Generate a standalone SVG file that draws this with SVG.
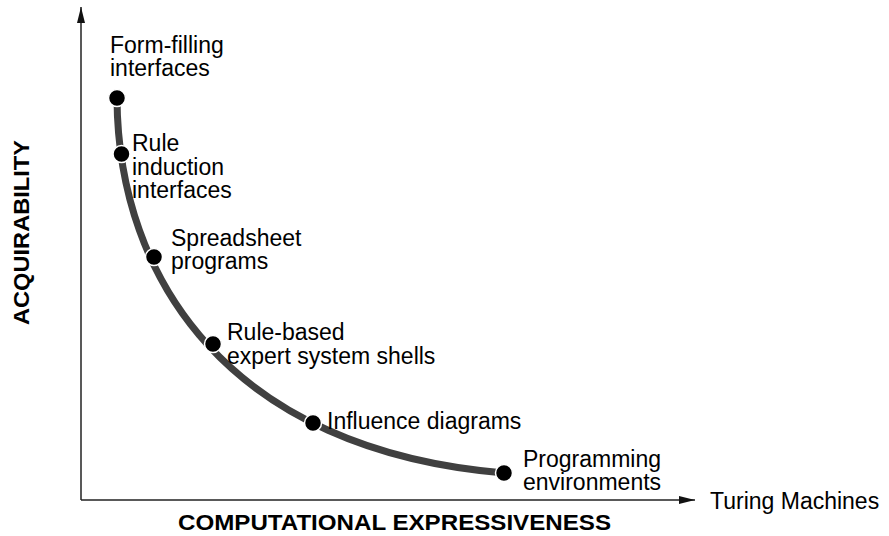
<svg xmlns="http://www.w3.org/2000/svg" width="889" height="536" viewBox="0 0 889 536">
<style>
.lbl{font-family:"Liberation Sans",Arial,sans-serif;font-size:23px;fill:#000}
.ax{font-family:"Liberation Sans",Arial,sans-serif;font-size:22px;font-weight:bold;fill:#000}
.dot{fill:#000;stroke:#fff;stroke-width:1.5}
.axis{stroke:#222;stroke-width:1.5;fill:none}
</style>
<defs>
<marker id="arr" markerWidth="16" markerHeight="8" refX="16" refY="4" orient="auto" markerUnits="userSpaceOnUse">
<path d="M0,0 L16,4 L0,8 Z" fill="#111"/>
</marker>
</defs>
<rect width="889" height="536" fill="#fff"/>
<g id="connectors">
<line class="axis" x1="81" y1="500" x2="81" y2="7" marker-end="url(#arr)"/>
<line class="axis" x1="81" y1="500" x2="695" y2="500" marker-end="url(#arr)"/>
<path d="M117,98 C118,280 230,450 504,473" fill="none" stroke="#404040" stroke-width="7"/>
</g>
<g id="axis-labels">
<text class="ax" x="178" y="530" textLength="433" lengthAdjust="spacingAndGlyphs">COMPUTATIONAL EXPRESSIVENESS</text>
<text class="ax" transform="translate(29,325) rotate(-90)" x="0" y="0" textLength="185" lengthAdjust="spacingAndGlyphs">ACQUIRABILITY</text>
<text class="lbl" x="710" y="509">Turing Machines</text>
</g>
<g id="form-filling">
<circle class="dot" cx="117" cy="98" r="8.5"/>
<text class="lbl" x="110" y="53">Form-filling</text>
<text class="lbl" x="110" y="76">interfaces</text>
</g>
<g id="rule-induction">
<circle class="dot" cx="121.5" cy="154" r="8.5"/>
<text class="lbl" x="132" y="151">Rule</text>
<text class="lbl" x="132" y="175">induction</text>
<text class="lbl" x="132" y="198">interfaces</text>
</g>
<g id="spreadsheet">
<circle class="dot" cx="154" cy="257" r="8.5"/>
<text class="lbl" x="171" y="246">Spreadsheet</text>
<text class="lbl" x="171" y="269">programs</text>
</g>
<g id="rule-based">
<circle class="dot" cx="213" cy="344" r="8.5"/>
<text class="lbl" x="227" y="340">Rule-based</text>
<text class="lbl" x="227" y="364">expert system shells</text>
</g>
<g id="influence">
<circle class="dot" cx="313" cy="423" r="8.5"/>
<text class="lbl" x="327" y="429">Influence diagrams</text>
</g>
<g id="programming">
<circle class="dot" cx="504" cy="473" r="8.5"/>
<text class="lbl" x="523" y="467">Programming</text>
<text class="lbl" x="523" y="490">environments</text>
</g>
</svg>
